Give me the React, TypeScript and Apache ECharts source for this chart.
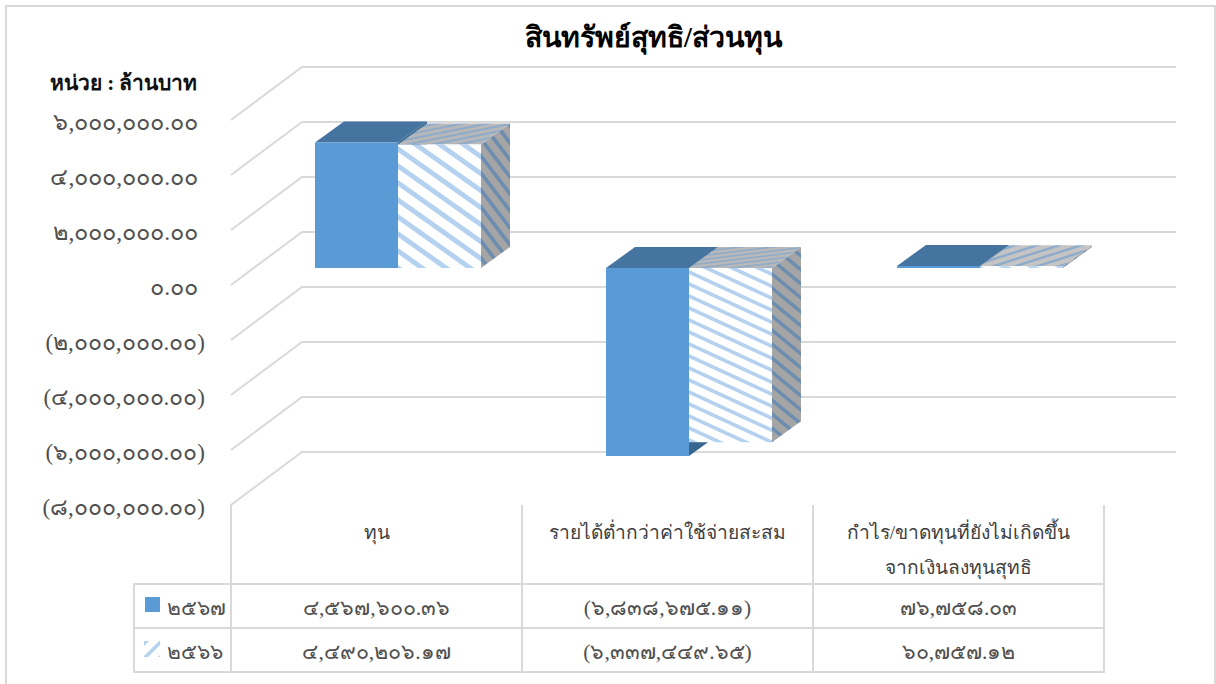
import React, { useEffect, useRef } from "react";
import * as echarts from "echarts";

const titleText = "สินทรัพย์สุทธิ/ส่วนทุน";
const unitText = "หน่วย : ล้านบาท";
const categories = ["ทุน", "รายได้ต่ำกว่าค่าใช้จ่ายสะสม", "กำไร/ขาดทุนที่ยังไม่เกิดขึ้น\nจากเงินลงทุนสุทธิ"];
const seriesNames = ["๒๕๖๗", "๒๕๖๖"];
const values2567 = [4567600.36, -6838675.11, 76758.03];
const values2566 = [4490206.17, -6337449.65, 60757.12];
const yTicks = [6000000, 4000000, 2000000, 0, -2000000, -4000000, -6000000, -8000000];

const FONT = "'Liberation Serif', serif";
const TEXT = "#404040";
const DIGIT = "#505050";
const GRID = "#d9d9d9";

const thaiDigits = "๐๑๒๓๔๕๖๗๘๙";
const toThai = (s: string) => s.replace(/[0-9]/g, (d) => thaiDigits[Number(d)]);
const fmt = (v: number) => {
  const s = Math.abs(v).toLocaleString("en-US", { minimumFractionDigits: 2, maximumFractionDigits: 2 });
  return toThai(v < 0 ? `(${s})` : s);
};

function stripes(vp: number, slope: number, vw: number, bg: string, fg: string) {
  const up = slope < 0;
  const m = Math.abs(slope);
  const H = Math.max(2, Math.round(vp));
  const W = Math.max(2, Math.round(vp / m));
  const c = document.createElement("canvas");
  c.width = W;
  c.height = H;
  const g = c.getContext("2d")!;
  g.fillStyle = bg;
  g.fillRect(0, 0, W, H);
  g.fillStyle = fg;
  for (let k = -2; k <= 2; k++) {
    const o = k * H;
    g.beginPath();
    if (!up) {
      g.moveTo(0, o);
      g.lineTo(W, o + H);
      g.lineTo(W, o + H + vw);
      g.lineTo(0, o + vw);
    } else {
      g.moveTo(0, o + H);
      g.lineTo(W, o);
      g.lineTo(W, o + vw);
      g.lineTo(0, o + H + vw);
    }
    g.closePath();
    g.fill();
  }
  return { image: c.toDataURL(), repeat: "repeat", imageWidth: W, imageHeight: H };
}

export default function App() {
  const ref = useRef<HTMLDivElement>(null);
  useEffect(() => {
    document.body.style.margin = "0";
    const chart = echarts.init(ref.current!, undefined, { renderer: "svg" });

    const BACK_DX = 71;
    const BACK_DY = 53;
    const FRONT_DX = 21.5;
    const FRONT_DY = 17;
    const DEPTH_DX = 29;
    const DEPTH_DY = 21;

    const hatchFront = [
      stripes(17, 0.72, 6, "#ffffff", "#b4d2ef"),
      stripes(11.5, 0.45, 4, "#ffffff", "#b4d2ef"),
      stripes(14, 0.5, 5, "#ffffff", "#b4d2ef"),
    ];
    const hatchTop = [
      stripes(5, -0.2, 2, "#b8b8b8", "#8dabcb"),
      stripes(4, -0.12, 1.5, "#b8b8b8", "#8dabcb"),
      stripes(7, -0.32, 2.5, "#c4c4c4", "#8dabcb"),
    ];
    const hatchSide = [
      stripes(17, 1.3, 6, "#a5a5a5", "#6c8db0"),
      stripes(13.5, 0.8, 4.5, "#a5a5a5", "#6c8db0"),
      stripes(13.5, 0.8, 4.5, "#a5a5a5", "#6c8db0"),
    ];
    const legendHatch = { ...stripes(15, -1, 5, "#ffffff", "#b4d2ef"), x: 7, y: 0 };

    const gridRender = (params: any, api: any) => {
      const y = api.coord([0, api.value(1)])[1];
      const cs = params.coordSys;
      return {
        type: "polyline",
        silent: true,
        shape: {
          points: [
            [cs.x, y],
            [cs.x + BACK_DX, y - BACK_DY],
            [cs.x + cs.width + BACK_DX + 1, y - BACK_DY],
          ],
        },
        style: { stroke: GRID, lineWidth: 2, fill: "none" },
      };
    };

    const barRender = (seriesIdx: number) => (_p: any, api: any) => {
      const i = api.value(0);
      const v = api.value(1);
      const w = api.size([1, 0])[0] * (83 / 291);
      const cx = api.coord([i, 0])[0] + FRONT_DX;
      const yv = api.coord([i, v])[1] - FRONT_DY;
      const y0 = api.coord([i, 0])[1] - FRONT_DY;
      const top = Math.min(yv, y0);
      const bot = Math.max(yv, y0);
      const x0 = seriesIdx === 0 ? cx - w : cx;
      const x1 = x0 + w;
      const fillFront = seriesIdx === 0 ? "#5b9bd5" : hatchFront[i];
      const fillTop = seriesIdx === 0 ? "#44749f" : hatchTop[i];
      const fillSide = seriesIdx === 0 ? "#38668f" : hatchSide[i];
      return {
        type: "group",
        children: [
          {
            type: "polygon",
            shape: { points: [[x1, top], [x1 + DEPTH_DX, top - DEPTH_DY], [x1 + DEPTH_DX, bot - DEPTH_DY], [x1, bot]] },
            style: { fill: fillSide },
          },
          {
            type: "polygon",
            shape: { points: [[x0, top], [x1, top], [x1 + DEPTH_DX, top - DEPTH_DY], [x0 + DEPTH_DX, top - DEPTH_DY]] },
            style: { fill: fillTop },
          },
          {
            type: "rect",
            shape: { x: x0, y: top, width: w, height: bot - top },
            style: { fill: fillFront },
          },
        ],
      };
    };

    const rowY = [608, 652];
    const rows = [values2567, values2566];
    const tableRender = (_p: any, api: any) => {
      const i = api.value(0);
      const r = api.value(1);
      const x = api.coord([i, 0])[0];
      return {
        type: "text",
        silent: true,
        style: {
          x,
          y: rowY[r],
          text: fmt(rows[r][i]),
          fill: DIGIT,
          font: `21.5px ${FONT}`,
          textAlign: "center",
          textVerticalAlign: "middle",
        },
      };
    };

    const tableCells: number[][] = [];
    categories.forEach((_, i) => rows.forEach((_r, r) => tableCells.push([i, r])));

    const tableLine = (x1: number, y1: number, x2: number, y2: number) => ({
      type: "line",
      silent: true,
      shape: { x1, y1, x2, y2 },
      style: { stroke: GRID, lineWidth: 2 },
    });

    chart.setOption({
      animation: false,
      backgroundColor: "#ffffff",
      title: {
        text: titleText,
        left: 648.5,
        top: 18,
        textAlign: "center",
        textStyle: { fontFamily: FONT, fontSize: 28.5, fontWeight: "bold", color: "#000000" },
      },
      grid: { left: 231, top: 120, width: 873, height: 385, containLabel: false },
      xAxis: {
        type: "category",
        data: categories,
        axisLine: { show: false },
        axisTick: { show: false },
        splitLine: { show: false },
        axisLabel: {
          interval: 0,
          margin: 10,
          fontFamily: FONT,
          fontSize: 19.2,
          lineHeight: 35,
          color: TEXT,
          verticalAlign: "top",
        },
      },
      yAxis: {
        type: "value",
        min: -8000000,
        max: 6000000,
        interval: 2000000,
        axisLine: { show: false },
        axisTick: { show: false },
        splitLine: { show: false },
        axisLabel: {
          margin: 26,
          formatter: (v: number) => (v < 0 ? `{n|${fmt(v)}}` : `{p|${fmt(v)}}`),
          rich: {
            p: { fontFamily: FONT, fontSize: 23.5, color: DIGIT, padding: [4, 7, 0, 0] },
            n: { fontFamily: FONT, fontSize: 23, color: DIGIT, padding: [4, 0, 0, 0] },
          },
        },
      },
      graphic: [
        {
          type: "rect",
          silent: true,
          z: -10,
          shape: { x: 6, y: 6, width: 1209, height: 700 },
          style: { fill: "none", stroke: GRID, lineWidth: 2 },
        },
        {
          type: "text",
          x: 50,
          y: 83,
          style: {
            text: unitText,
            fill: "#111111",
            font: `bold 21px ${FONT}`,
            textAlign: "left",
            textVerticalAlign: "middle",
          },
        },
        tableLine(231, 505, 231, 672),
        tableLine(522, 505, 522, 672),
        tableLine(813, 505, 813, 672),
        tableLine(1104, 505, 1104, 672),
        tableLine(134, 584, 134, 672),
        tableLine(133, 584, 1105, 584),
        tableLine(133, 628, 1105, 628),
        tableLine(133, 672, 1105, 672),
        { type: "rect", silent: true, shape: { x: 145, y: 597, width: 15, height: 15 }, style: { fill: "#5b9bd5" } },
        { type: "rect", silent: true, x: 144, y: 641, shape: { x: 0, y: 0, width: 16, height: 16 }, style: { fill: legendHatch } },
        {
          type: "text",
          x: 167,
          y: 608,
          style: { text: seriesNames[0], fill: DIGIT, font: `21px ${FONT}`, textAlign: "left", textVerticalAlign: "middle" },
        },
        {
          type: "text",
          x: 167,
          y: 652,
          style: { text: seriesNames[1], fill: DIGIT, font: `21px ${FONT}`, textAlign: "left", textVerticalAlign: "middle" },
        },
      ],
      series: [
        {
          type: "custom",
          name: "gridlines",
          silent: true,
          z: 1,
          renderItem: gridRender,
          encode: { x: 0, y: 1 },
          data: yTicks.map((v) => [0, v]),
        },
        {
          type: "custom",
          name: seriesNames[0],
          z: 2,
          renderItem: barRender(0),
          encode: { x: 0, y: 1 },
          data: values2567.map((v, i) => [i, v]),
        },
        {
          type: "custom",
          name: seriesNames[1],
          z: 3,
          renderItem: barRender(1),
          encode: { x: 0, y: 1 },
          data: values2566.map((v, i) => [i, v]),
        },
        {
          type: "custom",
          name: "table",
          silent: true,
          z: 4,
          renderItem: tableRender,
          encode: { x: 0, y: 1 },
          data: tableCells,
        },
      ],
    });
    return () => chart.dispose();
  }, []);
  return <div ref={ref} style={{ position: "fixed", left: 0, top: 0, width: 1216, height: 684, background: "#fff" }} />;
}
